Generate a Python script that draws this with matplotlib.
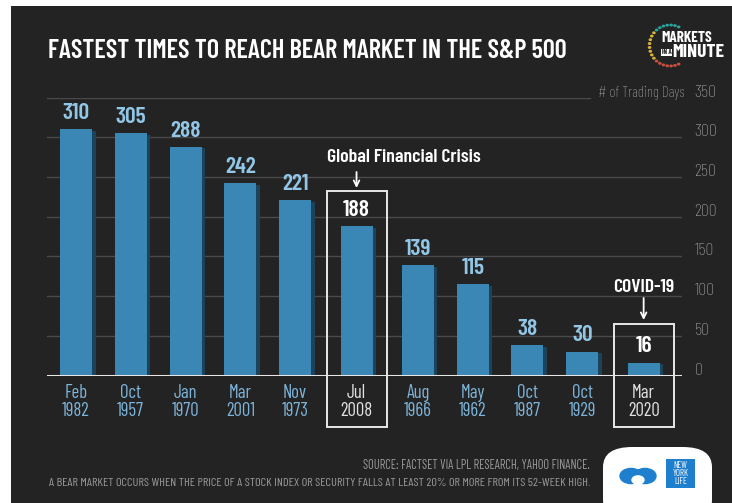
import numpy as np
import matplotlib
matplotlib.use("Agg")
import matplotlib.pyplot as plt
from matplotlib.patches import Rectangle, FancyBboxPatch, Circle
from matplotlib.transforms import blended_transform_factory, ScaledTranslation

# data
months = ["Feb", "Oct", "Jan", "Mar", "Nov", "Jul", "Aug", "May", "Oct", "Oct", "Mar"]
years = ["1982", "1957", "1970", "2001", "1973", "2008", "1966", "1962", "1987", "1929", "2020"]
days = [310, 305, 288, 242, 221, 188, 139, 115, 38, 30, 16]
highlight = {5: "Global Financial Crisis", 10: "COVID-19"}
yticks = [0, 50, 100, 150, 200, 250, 300, 350]

BG = "#232323"
BAR = "#3a86b4"
SHADOW = "#1c435c"
LBL = "#92c6e6"
CAT = "#7db4da"
GRID = "#4a4a4a"
TICK = "#a8a8a8"
FONT = ["Barlow Condensed", "DejaVu Sans"]

plt.rcParams["font.family"] = FONT

W, H = 732, 503
fig = plt.figure(figsize=(W / 100, H / 100), dpi=100)
fig.patch.set_facecolor("white")
renderer = fig.canvas.get_renderer()


def fx(x):
    return x / W


def fy(y):
    return 1 - y / H


def fit(t, width_px):
    # shrink/grow a text so it spans the same width as in the reference
    w = t.get_window_extent(renderer).width
    t.set_fontsize(t.get_fontsize() * width_px / w)


# dark panel
fig.patches.append(Rectangle((fx(11), 0), 1 - fx(11), fy(6), transform=fig.transFigure,
                             facecolor=BG, edgecolor="none", zorder=-10))

ax = fig.add_axes([fx(47), fy(375.5), (682 - 47) / W, (375.5 - 97.7) / H])
ax.set_facecolor("none")
for s in ax.spines.values():
    s.set_visible(False)

# bar positions with a little extra room around highlighted bars
pos = []
p = 0.0
for i in range(len(days)):
    if i > 0:
        p += 1
        if i in highlight or (i - 1) in highlight:
            p += 0.12
    pos.append(p)
pos = np.array(pos)

bw = 0.584
sw = 0.075
ax.bar(pos + bw / 2 + sw / 2 - 0.01, np.array(days) - 2, bottom=0, width=sw, color=SHADOW, zorder=2)
ax.bar(pos, days, width=bw, color=BAR, zorder=3)

ax.set_xlim(-0.529, 11.06)
ax.set_ylim(0, 350)

# grid
for t in yticks[1:]:
    ax.axhline(t, xmin=0, xmax=0.855 if t == 350 else 1, color=GRID, lw=1.0, zorder=1)
ax.axhline(0, color="#e6e6e6", lw=2.2, zorder=4)

ax.yaxis.tick_right()
ax.set_yticks(yticks)
ax.set_yticklabels([str(t) for t in yticks], fontsize=13, color=TICK, fontweight="light")
ax.tick_params(axis="y", length=0, pad=9)
ax.tick_params(axis="x", length=0)
ax.set_xticks([])
off = ScaledTranslation(0, 5 / 72, fig.dpi_scale_trans)
for lab in ax.get_yticklabels():
    lab.set_transform(lab.get_transform() + off)
t = fig.text(fx(684), fy(93), "# of Trading Days", ha="right", va="center", fontsize=12, color=TICK,
             fontweight="light")
fit(t, 87)

# value labels
for i, (x, v) in enumerate(zip(pos, days)):
    c = "white" if i in highlight else LBL
    ax.text(x, v + 13, str(v), ha="center", va="baseline", fontsize=17, fontweight="semibold",
            color=c, zorder=5, clip_on=False)

# category labels and highlight boxes
tr = blended_transform_factory(ax.transData, fig.transFigure)
for i, x in enumerate(pos):
    c = "#e2e2e2" if i in highlight else CAT
    ax.text(x, fy(393), months[i], transform=tr, ha="center", va="center", fontsize=13.5, color=c)
    ax.text(x, fy(411.5), years[i], transform=tr, ha="center", va="center", fontsize=13.5, color=c)

box_w = 60 / 54.78
for i, name in highlight.items():
    top = 191 if i == 5 else 324
    x0 = pos[i] - box_w / 2
    ax.add_patch(Rectangle((x0, fy(427)), box_w, fy(top) - fy(427), transform=tr,
                           facecolor="none", edgecolor="#e8e8e8", lw=1.4, clip_on=False, zorder=6))
    if i == 5:
        t = ax.text(x0 + 0.01, fy(158), name, transform=tr, ha="left", va="center",
                    fontsize=14, fontweight="semibold", color="white")
        fit(t, 154)
        a0, a1 = 172, 188
    else:
        ax.text(pos[i], fy(287), name, transform=tr, ha="center", va="center",
                fontsize=t.get_fontsize(), fontweight="semibold", color="white")
        a0, a1 = 298, 320
    ax.annotate("", xy=(pos[i], fy(a1)), xytext=(pos[i], fy(a0)), xycoords=tr, textcoords=tr,
                arrowprops=dict(arrowstyle="->", color="white", lw=1.3, shrinkA=0, shrinkB=0))

# title
t = fig.text(fx(48), fy(51), "FASTEST TIMES TO REACH BEAR MARKET IN THE S&P 500", ha="left", va="center",
             fontsize=22, fontweight="semibold", color="white")
fit(t, 519)

# markets in a minute badge
ang = np.linspace(np.deg2rad(65), np.deg2rad(295), 22)
cols = ["#2aa39a"] * 7 + ["#d8b53a"] * 8 + ["#c9503f"] * 7
for a, c in zip(ang, cols):
    fig.patches.append(Circle((fx(670 + 20.5 * np.cos(a)), fy(45.5 - 20.5 * np.sin(a))), 1.1 / W,
                              transform=fig.transFigure, color=c))
t = fig.text(fx(661), fy(38), "MARKETS", ha="left", va="center", fontsize=12, fontweight="bold",
             color="white")
fit(t, 51)
fig.text(fx(661.5), fy(52.5), "IN A", ha="left", va="center", fontsize=5, fontweight="bold", color=BG,
         bbox=dict(boxstyle="square,pad=0.12", facecolor="white", edgecolor="none"))
t = fig.text(fx(672), fy(52.5), "MINUTE", ha="left", va="center", fontsize=12, fontweight="bold",
             color="white")
fit(t, 52)

# footnotes
t = fig.text(fx(590), fy(465), "SOURCE: FACTSET VIA LPL RESEARCH, YAHOO FINANCE.", ha="right", va="center",
             fontsize=10, color="#9a9a9a")
fit(t, 227)
t = fig.text(fx(590), fy(483), "A BEAR MARKET OCCURS WHEN THE PRICE OF A STOCK INDEX OR SECURITY FALLS AT LEAST "
             "20% OR MORE FROM ITS 52-WEEK HIGH.", ha="right", va="center", fontsize=10, color="#9a9a9a")
fit(t, 542)

# new york life logo box
fig.patches.append(FancyBboxPatch((fx(603), fy(520)), (712 - 603) / W, (520 - 447) / H,
                                  boxstyle="round,pad=0,rounding_size=0.04", transform=fig.transFigure,
                                  facecolor="white", edgecolor="none"))
fig.patches.append(Rectangle((fx(666), fy(488)), 29 / W, 29 / H, transform=fig.transFigure,
                             facecolor="#1f7fcf", edgecolor="none"))
fig.text(fx(680.5), fy(473.5), "NEW\nYORK\nLIFE", ha="center", va="center", fontsize=6.5,
         color="white", linespacing=0.85)
fig.patches.append(Circle((fx(631), fy(476)), 11 / W, transform=fig.transFigure, color="#1f7fcf"))
fig.patches.append(Circle((fx(645), fy(476)), 11 / W, transform=fig.transFigure, color="#1f7fcf"))
fig.patches.append(Circle((fx(638), fy(480)), 6 / W, transform=fig.transFigure, color="white"))

fig.savefig("out.png", dpi=100, facecolor=fig.get_facecolor())
